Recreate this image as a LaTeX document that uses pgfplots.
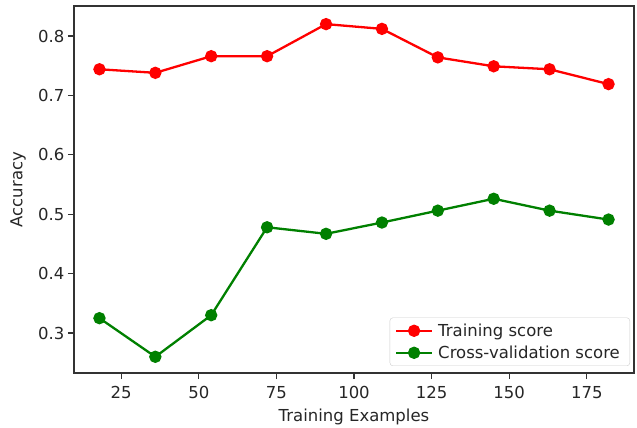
\documentclass[border=0pt]{standalone}
\usepackage{fontspec}
\setmainfont{DejaVu Sans}
\usepackage{pgfplots}
\pgfplotsset{compat=1.18}
\definecolor{mplgreen}{HTML}{008000}
\definecolor{mplred}{HTML}{FF0000}
\begin{document}
\begin{tikzpicture}[font=\fontsize{16.5bp}{19bp}\selectfont]
\useasboundingbox (0,0) rectangle (637bp,428bp);
\begin{axis}[
  at={(74bp,55bp)}, anchor=south west,
  scale only axis, width=560bp, height=367bp,
  xmin=9.8, xmax=190.2, ymin=0.2327, ymax=0.8505,
  xtick={25,50,75,100,125,150,175},
  ytick={0.3,0.4,0.5,0.6,0.7,0.8},
  /pgf/number format/assume math mode=true,
  yticklabel style={/pgf/number format/fixed,/pgf/number format/precision=1,/pgf/number format/fixed zerofill},
  tick align=outside, major tick length=6bp,
  xtick pos=bottom, ytick pos=left,
  every tick/.style={black!80, line width=1.1bp},
  axis line style={black!80, line width=1.1bp},
  tick label style={black!85, font=\fontsize{16.5bp}{19bp}\selectfont},
  xticklabel style={yshift=-4bp},
  label style={black!85, font=\fontsize{16.5bp}{19bp}\selectfont},
  xlabel={Training Examples}, ylabel={Accuracy},
  xlabel style={at={(axis description cs:0.5,-0.12)}, anchor=center},
  ylabel style={at={(axis description cs:-0.1,0.5)}, anchor=center, rotate=0},
  legend style={at={(axis description cs:1,0)}, anchor=south east, xshift=-4bp, yshift=7bp,
    draw=black!20, rounded corners=3bp, fill=white, inner xsep=5bp, inner ysep=4bp,
    font=\fontsize{16.5bp}{19bp}\selectfont, text=black!85, row sep=4bp,
    nodes={inner xsep=5bp}},
  legend cell align=left,
  legend image code/.code={\draw[mark repeat=2,mark phase=2] plot coordinates {(0bp,0bp)(18bp,0bp)(36bp,0bp)};},
]
\addplot[mplred, line width=2.3bp, mark=*, mark size=5bp, mark options={solid}] coordinates {
(18,0.744) (36,0.738) (54,0.766) (72,0.766) (91,0.820) (109,0.812) (127,0.764) (145,0.749) (163,0.744) (182,0.719)};
\addlegendentry{Training score}
\addplot[mplgreen, line width=2.3bp, mark=*, mark size=5bp, mark options={solid}] coordinates {
(18,0.325) (36,0.260) (54,0.330) (72,0.478) (91,0.467) (109,0.486) (127,0.506) (145,0.526) (163,0.506) (182,0.491)};
\addlegendentry{Cross-validation score}
\end{axis}
\end{tikzpicture}
\end{document}
